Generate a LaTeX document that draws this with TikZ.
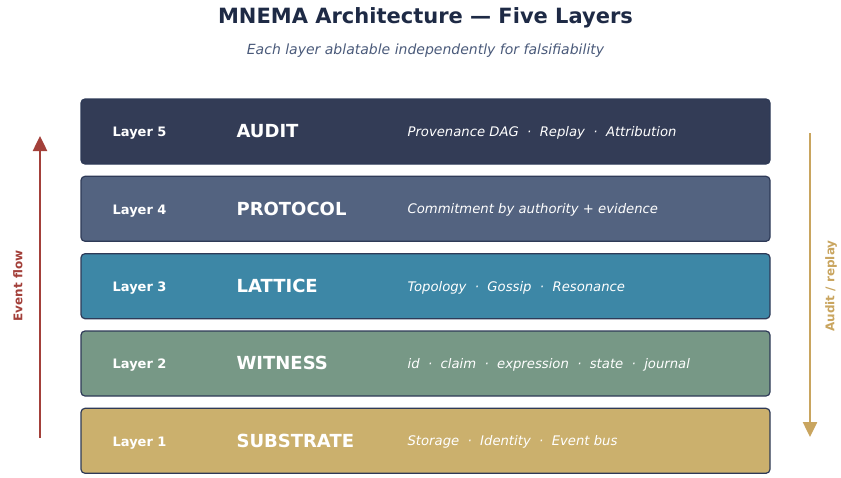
\documentclass[tikz,border=0pt]{standalone}
\usepackage{fontspec}
\setmainfont{DejaVu Sans}
\usetikzlibrary{arrows.meta}
\definecolor{titlecol}{HTML}{1E2A45}
\definecolor{subcol}{HTML}{4A5A7A}
\definecolor{edgecol}{HTML}{2E3A57}
\definecolor{cfive}{HTML}{333C56}
\definecolor{cfour}{HTML}{536380}
\definecolor{cthree}{HTML}{3D87A6}
\definecolor{ctwo}{HTML}{779886}
\definecolor{cone}{HTML}{CBB06D}
\definecolor{redarrow}{HTML}{A3403A}
\definecolor{goldarrow}{HTML}{C9A55F}
\tikzset{
  layerbox/.style={draw=edgecol, line width=1.2pt, rounded corners=4pt, minimum width=689pt, minimum height=65pt, inner sep=0pt},
  layernum/.style={anchor=base west, text=white, inner sep=0pt, font=\bfseries\fontsize{13}{15}\selectfont},
  layername/.style={anchor=base west, text=white, inner sep=0pt, font=\bfseries\fontsize{18}{21}\selectfont},
  layerdesc/.style={anchor=base west, text=white, inner sep=0pt, font=\itshape\fontsize{13.2}{15}\selectfont},
  flowarrow/.style={line width=2.5pt, -{Triangle[length=15pt,width=14pt]}},
  sidelabel/.style={rotate=90, inner sep=0pt, font=\bfseries\fontsize{12}{14}\selectfont}
}
\begin{document}
\begin{tikzpicture}[x=1pt,y=-1pt]
\useasboundingbox (0,0) rectangle (841,477);
\node[text=titlecol, font=\bfseries\fontsize{21}{25}\selectfont] (title) at (425.5,17.5) {MNEMA Architecture — Five Layers};
\node[text=subcol, font=\itshape\fontsize{14}{17}\selectfont] (subtitle) at (425.5,51) {Each layer ablatable independently for falsifiability};

\node[layerbox, fill=cfive] (L5) at (425.5,131.5) {};
\node[layerbox, fill=cfour] (L4) at (425.5,208.8) {};
\node[layerbox, fill=cthree] (L3) at (425.5,286.2) {};
\node[layerbox, fill=ctwo] (L2) at (425.5,363.5) {};
\node[layerbox, fill=cone] (L1) at (425.5,440.8) {};

\foreach \L/\num/\name/\desc in {
  L5/Layer 5/AUDIT/{Provenance DAG~~·~~Replay~~·~~Attribution},
  L4/Layer 4/PROTOCOL/{Commitment by authority + evidence},
  L3/Layer 3/LATTICE/{Topology~~·~~Gossip~~·~~Resonance},
  L2/Layer 2/WITNESS/{id~~·~~claim~~·~~expression~~·~~state~~·~~journal},
  L1/Layer 1/SUBSTRATE/{Storage~~·~~Identity~~·~~Event bus}} {
  \node[layernum] (\L num) at ([xshift=32pt,yshift=-5.2pt]\L.west) {\num};
  \node[layername] (\L name) at ([xshift=156pt,yshift=-6.2pt]\L.west) {\name};
  \node[layerdesc] (\L desc) at ([xshift=327pt,yshift=-4.8pt]\L.west) {\desc};
}

\coordinate (efstart) at (40,438);
\coordinate (efend) at (40,136);
\draw[flowarrow, draw=redarrow, fill=redarrow] (efstart) -- (efend);
\node[sidelabel, text=redarrow] (eflabel) at (18,286) {Event flow};

\coordinate (arstart) at (810,133);
\coordinate (arend) at (810,437);
\draw[flowarrow, draw=goldarrow, fill=goldarrow] (arstart) -- (arend);
\node[sidelabel, text=goldarrow] (arlabel) at (831,286) {Audit / replay};
\end{tikzpicture}
\end{document}
